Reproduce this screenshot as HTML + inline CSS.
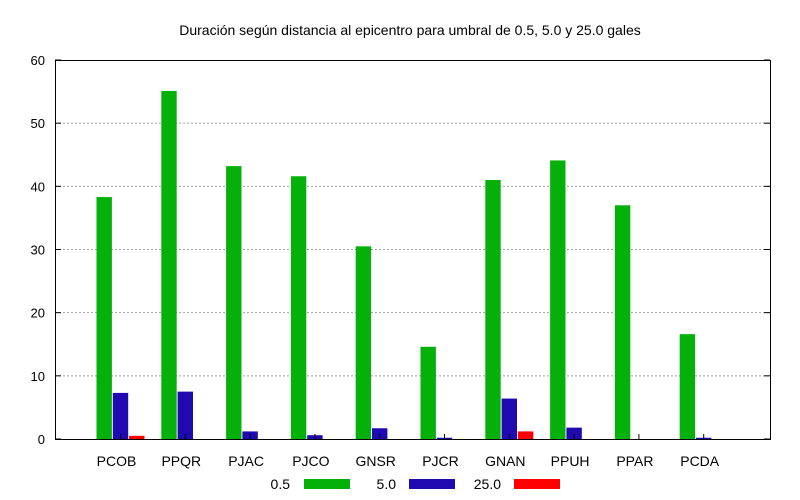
<!DOCTYPE html>
<html><head><meta charset="utf-8"><style>
html,body{margin:0;padding:0;background:#fff;}
svg{display:block;font-family:"Liberation Sans",sans-serif;}
</style></head><body>
<svg id="chart" width="800" height="500">
<text x="410" y="35" text-anchor="middle" font-size="14">Duración según distancia al epicentro para umbral de 0.5, 5.0 y 25.0 gales</text>
<g id="grid"></g><g id="bars"></g><g id="axes"></g><g id="legend"></g>
</svg>
<script>
const categories=["PCOB","PPQR","PJAC","PJCO","GNSR","PJCR","GNAN","PPUH","PPAR","PCDA"];
const series05=[38.3,55.1,43.2,41.6,30.5,14.6,41.0,44.1,37.0,16.6];
const series50=[7.3,7.5,1.2,0.6,1.7,0.2,6.4,1.8,0,0.2];
const series250=[0.5,0,0,0,0,0,1.2,0,0,0];
const yTicks=[0,10,20,30,40,50,60];
const seriesNames=["0.5","5.0","25.0"];
const NS="http://www.w3.org/2000/svg";
const L=55,R=770,T=60,B=439,yMax=60;
const y=v=>B-(v/yMax)*(B-T);
const xc=i=>120.5+i*64.8;
function mk(t,a,p){const e=document.createElementNS(NS,t);for(const k in a)e.setAttribute(k,a[k]);p.appendChild(e);return e;}
const grid=document.getElementById('grid'),axes=document.getElementById('axes'),bars=document.getElementById('bars'),leg=document.getElementById('legend');
yTicks.forEach(v=>{
 if(v>0&&v<yMax){const g=mk('line',{x1:L,x2:R,y1:y(v),y2:y(v),stroke:'#a0a0a0','stroke-dasharray':'2,2','stroke-width':1},grid);
 
 }
 const t=mk('text',{x:L-10,y:y(v)+5,'text-anchor':'end','font-size':13},axes);t.textContent=v;
 
 
 mk('line',{x1:L,x2:L+6,y1:y(v),y2:y(v),stroke:'#000'},axes);
 mk('line',{x1:R,x2:R-6,y1:y(v),y2:y(v),stroke:'#000'},axes);
});
const fr=mk('rect',{x:L+0.5,y:T+0.5,width:R-L,height:B-T,fill:'none',stroke:'#000','stroke-width':1},axes);


const colors=["#06b00a","#1e0ab0","#ff0000"];
const all=[series05,series50,series250];
categories.forEach((c,i)=>{
 all.forEach((s,j)=>{
  const v=s[i];if(v<=0)return;
  const b=mk('rect',{x:xc(i)+(j-1)*16.3-7.7,y:y(v),width:15.4,height:B-y(v),fill:colors[j]},bars);
  
  
 });
 mk('line',{x1:xc(i),x2:xc(i),y1:B,y2:B-5,stroke:'#000'},axes);
 const t=mk('text',{x:xc(i)-4,y:466,'text-anchor':'middle','font-size':14},axes);t.textContent=c;
 
 
});
const lx=[[290,304],[396,409],[501,514]];
seriesNames.forEach((n,j)=>{
 const t=mk('text',{x:lx[j][0],y:489,'text-anchor':'end','font-size':14},leg);t.textContent=n;
 
 
 const r=mk('rect',{x:lx[j][1],y:479,width:46,height:10,fill:colors[j]},leg);
 
 
});
</script>
</body></html>
